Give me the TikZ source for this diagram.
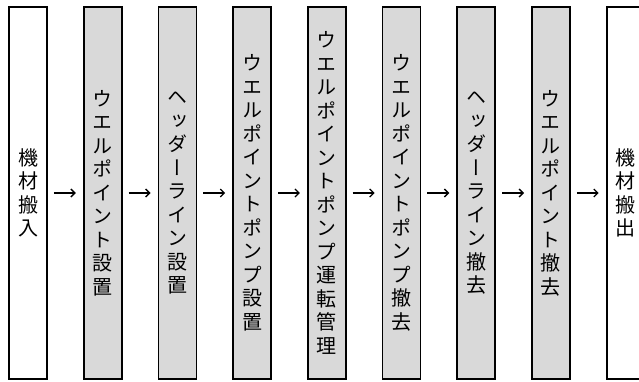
\documentclass[tikz,border=0pt]{standalone}
\usepackage{fontspec}
\setmainfont{Noto Sans CJK JP}[RawFeature=+vert]
\usetikzlibrary{arrows.meta}
\definecolor{boxgray}{RGB}{217,217,217}
\tikzset{
    basebox/.style={
        draw=black,
        line width=1.8pt,
        minimum width=38pt,
        minimum height=372pt,
        inner sep=0pt,
        align=center,
        font=\fontsize{20}{23.5}\selectfont
    },
    whitebox/.style={basebox, fill=white},
    graybox/.style={basebox, fill=boxgray},
    myarrow/.style={-{Straight Barb[length=4pt, width=8pt]}, line width=1.3pt, shorten <=6pt, shorten >=7pt}
}
\begin{document}
\begin{tikzpicture}[x=1pt, y=1pt]

    \useasboundingbox (0,0) rectangle (639,381);

    % 1. Inicio / fin (cajas blancas)
    \node[whitebox] (hannyu) at (28, 188) {機\\材\\搬\\入};
    \node[whitebox] (hanshutsu) at (625.6, 188) {機\\材\\搬\\出};

    % 2. Pasos intermedios (cajas grises)
    \node[graybox] (wp_setchi) at (102.7, 188) {ウ\\エ\\ル\\ポ\\イ\\ン\\ト\\設\\置};
    \node[graybox] (hl_setchi) at (177.4, 188) {ヘ\\ッ\\ダ\\ー\\ラ\\イ\\ン\\設\\置};
    \node[graybox] (pump_setchi) at (252.1, 188) {ウ\\エ\\ル\\ポ\\イ\\ン\\ト\\ポ\\ン\\プ\\設\\置};
    \node[graybox] (pump_unten) at (326.8, 188) {ウ\\エ\\ル\\ポ\\イ\\ン\\ト\\ポ\\ン\\プ\\運\\転\\管\\理};
    \node[graybox] (pump_tekkyo) at (401.5, 188) {ウ\\エ\\ル\\ポ\\イ\\ン\\ト\\ポ\\ン\\プ\\撤\\去};
    \node[graybox] (hl_tekkyo) at (476.2, 188) {ヘ\\ッ\\ダ\\ー\\ラ\\イ\\ン\\撤\\去};
    \node[graybox] (wp_tekkyo) at (550.9, 188) {ウ\\エ\\ル\\ポ\\イ\\ン\\ト\\撤\\去};

    % ==========================================
    % Conexiones (Flechas)
    % ==========================================
    \draw[myarrow] (hannyu) -- (wp_setchi);
    \draw[myarrow] (wp_setchi) -- (hl_setchi);
    \draw[myarrow] (hl_setchi) -- (pump_setchi);
    \draw[myarrow] (pump_setchi) -- (pump_unten);
    \draw[myarrow] (pump_unten) -- (pump_tekkyo);
    \draw[myarrow] (pump_tekkyo) -- (hl_tekkyo);
    \draw[myarrow] (hl_tekkyo) -- (wp_tekkyo);
    \draw[myarrow] (wp_tekkyo) -- (hanshutsu);

\end{tikzpicture}
\end{document}
